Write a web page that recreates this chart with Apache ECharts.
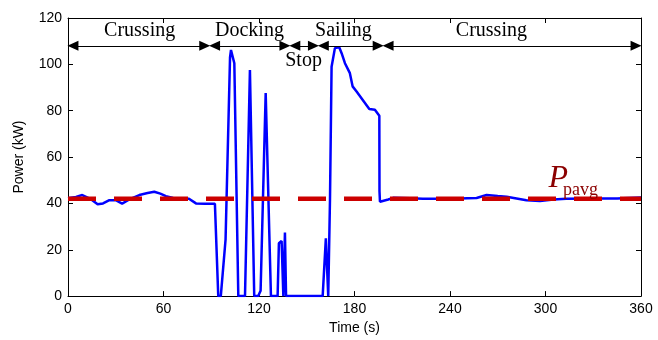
<!DOCTYPE html>
<html>
<head>
<meta charset="utf-8">
<script src="https://cdn.jsdelivr.net/npm/echarts@6/dist/echarts.min.js"></script>
<style>
  html, body { margin: 0; padding: 0; background: #fff; }
  #main { width: 658px; height: 340px; }
</style>
</head>
<body>
<div id="main"></div>
<script>
// power trace (time in s, power in kW)
var timeS = [0, 5, 9, 14, 18.6, 22, 26, 30, 34, 38.5, 44.8, 50, 54.2, 58, 61.5, 66, 71, 76, 80.4, 86,
    92.3, 94.4, 96, 99, 100, 101.8, 102.4, 104.5, 107, 111.2, 114.3, 117, 119.5, 121, 124.2, 127.5,
    131.7, 132.5, 134.2, 135.3, 136.3, 137, 160, 162, 163.5, 164.6, 165.6, 167.7, 170.4, 171.9, 174,
    177.1, 178.2, 178.8, 181.3, 189.3, 192.8, 195.6, 195.7, 196, 201.2, 204.3, 215, 223, 240, 256.7,
    263, 270, 275.6, 288, 296.5, 305, 313, 330, 345, 360];
var powerKW = [42.2, 42.8, 43.6, 42, 39.6, 40, 41.4, 41.4, 39.9, 41.7, 43.6, 44.5, 45, 44.2, 43.1, 42.3, 42.1, 42, 40, 39.8,
    39.8, 0, 0, 24.5, 25, 103, 106.2, 100.5, 0, 0, 97.6, 0, 0, 2.3, 87.6, 0,
    0, 22.8, 23.8, 0, 27.4, 0, 0, 24.9, 0, 41.7, 99, 107, 107.4, 104.8, 100.5,
    96.2, 95.5, 90.5, 88.3, 80.7, 80.4, 77.8, 45.3, 40.7, 41.7, 42.4, 42.2, 42, 42, 42.3,
    43.6, 43.2, 42.9, 41.4, 41, 41.7, 42, 42.1, 42.1, 42.5];

var pavg = 42;

// operating phases along the top
var phaseNames = ['Crussing', 'Docking', 'Stop', 'Sailing', 'Crussing'];
var phaseStart = [0, 89, 139.4, 157.3, 198];
var phaseEnd = [89, 139.4, 157.3, 198, 360];
var phaseLabelT = [45, 114, 148, 173, 266];
var phaseLabelP = [114.5, 114.5, 101.5, 114.5, 114.5];
var arrowP = 108;

var xMin = 0, xMax = 360, xStep = 60;
var yMin = 0, yMax = 120, yStep = 20;

var chart = echarts.init(document.getElementById('main'));

var sansFont = '"Liberation Sans", Arial, Helvetica, sans-serif';
var serifFont = '"Liberation Serif", "Times New Roman", serif';

// arrow heads are centred on the line ends, pull them in so the tips meet
var headInset = 3.1;

var powerData = timeS.map(function (t, i) { return [t, powerKW[i]]; });

var arrowLines = phaseNames.map(function (n, i) {
    return [
        { coord: [phaseStart[i] + headInset, arrowP] },
        { coord: [phaseEnd[i] - headInset, arrowP] }
    ];
});
var phaseLabels = phaseNames.map(function (n, i) {
    return { name: n, coord: [phaseLabelT[i], phaseLabelP[i]] };
});

var axisCommon = {
    type: 'value',
    axisLine: { show: true, onZero: false, lineStyle: { color: '#000', width: 1 } },
    axisTick: { show: true, inside: true, length: 5, lineStyle: { color: '#000' } },
    splitLine: { show: false },
    axisLabel: { color: '#000', fontSize: 14, fontFamily: sansFont }
};

function axis(extra) {
    return echarts.util.merge(echarts.util.clone(axisCommon), extra, true);
}

var option = {
    backgroundColor: '#fff',
    animation: false,
    grid: { left: 68, right: 17, top: 18, bottom: 43 },
    xAxis: [
        axis({
            position: 'bottom', min: xMin, max: xMax, interval: xStep,
            axisLabel: { margin: 6 },
            name: 'Time (s)', nameLocation: 'middle', nameGap: 24,
            nameTextStyle: { color: '#000', fontSize: 14, fontFamily: sansFont }
        }),
        axis({ position: 'top', min: xMin, max: xMax, interval: xStep, axisLabel: { show: false } })
    ],
    yAxis: [
        axis({
            position: 'left', min: yMin, max: yMax, interval: yStep,
            axisLabel: { margin: 6 },
            name: 'Power (kW)', nameLocation: 'middle', nameGap: 42,
            nameTextStyle: { color: '#000', fontSize: 14, fontFamily: sansFont }
        }),
        axis({ position: 'right', min: yMin, max: yMax, interval: yStep, axisLabel: { show: false } })
    ],
    series: [
        {
            name: 'Power',
            type: 'line',
            data: powerData,
            showSymbol: false,
            symbol: 'none',
            lineStyle: { color: '#0000ff', width: 2.5 },
            z: 2
        },
        {
            name: 'Pavg',
            type: 'line',
            data: [[xMin, pavg], [xMax, pavg]],
            symbol: 'none',
            lineStyle: { color: '#cc0000', width: 4.5, type: [28, 18] },
            z: 3,
            markPoint: {
                silent: true,
                symbol: 'circle',
                symbolSize: 0,
                data: [
                    {
                        coord: [308, 50.5],
                        label: {
                            formatter: 'P', fontFamily: serifFont, fontStyle: 'italic',
                            fontSize: 32, color: '#8b0000'
                        }
                    },
                    {
                        coord: [322, 45.6],
                        label: {
                            formatter: 'pavg', fontFamily: serifFont,
                            fontSize: 18, color: '#8b0000'
                        }
                    }
                ]
            }
        },
        {
            name: 'phases',
            type: 'line',
            data: [],
            markLine: {
                silent: true,
                symbol: ['triangle', 'triangle'],
                symbolSize: [10, 11],
                label: { show: false },
                lineStyle: { color: '#000', width: 1, type: 'solid' },
                emphasis: { disabled: true },
                data: arrowLines
            },
            markPoint: {
                silent: true,
                symbol: 'circle',
                symbolSize: 0,
                label: {
                    show: true,
                    formatter: '{b}',
                    color: '#000',
                    fontFamily: serifFont,
                    fontSize: 20
                },
                data: phaseLabels
            }
        }
    ]
};

chart.setOption(option);
</script>
</body>
</html>
